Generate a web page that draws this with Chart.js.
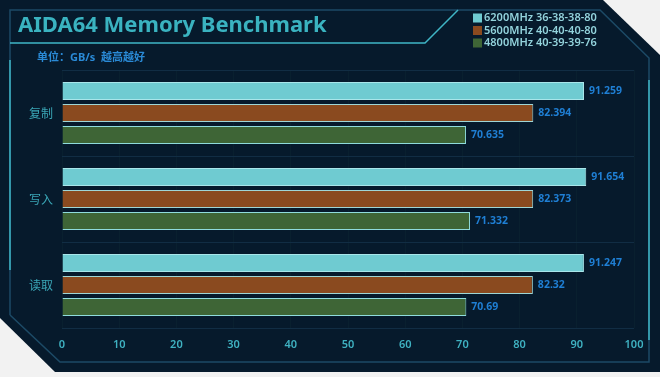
<!DOCTYPE html>
<html>
<head>
<meta charset="utf-8">
<script src="https://cdn.jsdelivr.net/npm/chart.js@4/dist/chart.umd.min.js"></script>
<style>
  html, body { margin: 0; padding: 0; background: #f2f2f2; }
  #wrap { width: 660px; height: 377px; }
</style>
</head>
<body>
<div id="wrap"><canvas id="chart"></canvas></div>
<script>
const categorias = ['复制', '写入', '读取'];
const series = ['6200MHz 36-38-38-80', '5600MHz 40-40-40-80', '4800MHz 40-39-39-76'];
const valores6200 = [91.259, 91.654, 91.247];
const valores5600 = [82.394, 82.373, 82.32];
const valores4800 = [70.635, 71.332, 70.69];
const ticksX = [0, 10, 20, 30, 40, 50, 60, 70, 80, 90, 100];

const colores = ['#6fcbd1', '#8a4a1f', '#3e6536'];
const FUENTE = '"Noto Sans", "Noto Sans CJK SC", sans-serif';

// marco, titulo y leyenda
const marco = {
    id: 'marco',
    beforeDraw(chart) {
        const c = chart.ctx;
        c.save();
        c.fillStyle = '#f2f2f2';
        c.fillRect(0, 0, 660, 377);
        c.fillStyle = '#061a2c';
        c.beginPath();
        c.moveTo(0, 0); c.lineTo(603, 0); c.lineTo(660, 55); c.lineTo(660, 372);
        c.lineTo(55, 372); c.lineTo(0, 318); c.closePath();
        c.fill();

        c.lineWidth = 1.5;
        c.strokeStyle = '#1c4a66';
        c.beginPath();
        c.moveTo(10, 315); c.lineTo(10, 10); c.lineTo(600, 10); c.lineTo(649, 58);
        c.lineTo(649, 362); c.lineTo(60, 362); c.lineTo(10, 315);
        c.stroke();

        c.strokeStyle = '#3fb6c6';
        c.beginPath(); c.moveTo(10, 60); c.lineTo(10, 270); c.stroke();
        c.beginPath(); c.moveTo(649, 80); c.lineTo(649, 340); c.stroke();
        c.beginPath(); c.moveTo(10, 43); c.lineTo(425, 43); c.lineTo(458, 10); c.stroke();

        c.fillStyle = '#3ab3c0';
        c.font = 'bold 22px ' + FUENTE;
        c.textBaseline = 'middle';
        c.fillText('AIDA64 Memory Benchmark', 18, 26);

        c.fillStyle = '#2a8ad6';
        c.font = 'bold 11px ' + FUENTE;
        c.fillText('单位：GB/s  越高越好', 37, 58);

        c.font = '600 11px ' + FUENTE;
        chart.data.datasets.forEach((ds, i) => {
            const y = 18 + i * 12.5;
            c.fillStyle = ds.backgroundColor;
            c.fillRect(473, y - 4.5, 9, 9);
            c.fillStyle = '#93d3dc';
            c.fillText(ds.label, 484, y);
        });
        c.restore();
    }
};

const etiquetas = {
    id: 'etiquetas',
    afterDatasetsDraw(chart) {
        const c = chart.ctx;
        c.save();
        c.fillStyle = '#1f7fd4';
        c.font = 'bold 10.5px ' + FUENTE;
        c.textBaseline = 'middle';
        chart.data.datasets.forEach((ds, i) => {
            chart.getDatasetMeta(i).data.forEach((bar, j) => {
                c.fillText(String(ds.data[j]), bar.x + 5, bar.y);
            });
        });
        c.restore();
    }
};

new Chart(document.getElementById('chart'), {
    type: 'bar',
    data: {
        labels: categorias,
        datasets: [
            { label: series[0], data: valores6200, backgroundColor: colores[0], borderColor: '#a9e6ea', borderWidth: 1 },
            { label: series[1], data: valores5600, backgroundColor: colores[1], borderColor: '#9fd6d6', borderWidth: 1 },
            { label: series[2], data: valores4800, backgroundColor: colores[2], borderColor: '#8fdcdc', borderWidth: 1 }
        ]
    },
    options: {
        indexAxis: 'y',
        responsive: true,
        maintainAspectRatio: false,
        animation: false,
        devicePixelRatio: 1,
        categoryPercentage: 0.77,
        barPercentage: 0.82,
        layout: { padding: { left: 0, right: 26, top: 70, bottom: 0 } },
        plugins: { legend: { display: false }, title: { display: false }, tooltip: { enabled: false } },
        scales: {
            x: {
                min: 0, max: 100,
                afterBuildTicks: s => { s.ticks = ticksX.map(v => ({ value: v })); },
                afterFit: s => { s.height = 49; },
                border: { display: false },
                grid: { color: '#09202f', drawTicks: false },
                ticks: { color: '#3fb2c2', padding: 10, font: { family: FUENTE, size: 11, weight: '600' } }
            },
            y: {
                afterFit: s => { s.width = 62; },
                border: { display: false },
                grid: { color: '#112d44', drawTicks: false },
                ticks: { color: '#3aa6b6', padding: 9, font: { family: '"Noto Sans CJK SC", sans-serif', size: 12 } }
            }
        }
    },
    plugins: [marco, etiquetas]
});
</script>
</body>
</html>
